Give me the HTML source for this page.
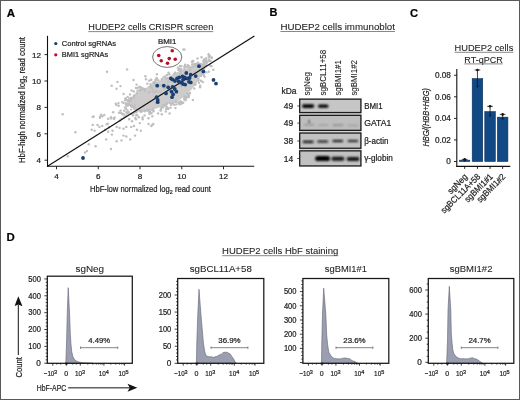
<!DOCTYPE html>
<html><head><meta charset="utf-8"><style>
html,body{margin:0;padding:0;background:#fff;}
svg{display:block;will-change:transform;font-family:"Liberation Sans",sans-serif;}
text{stroke:#1e1e1e;stroke-width:0.22px;}
text.t{stroke-width:0.08px;}
</style></head><body>
<svg width="520" height="400" viewBox="0 0 520 400" fill="#1e1e1e">
<rect x="0.00" y="0.00" width="520.00" height="400.00" fill="#ffffff"/>
<text x="6.80" y="16.50" font-size="11.5" font-weight="700" fill="#000">A</text>
<text x="269.60" y="16.10" font-size="11.0" font-weight="700" fill="#000">B</text>
<text x="410.00" y="16.60" font-size="11.2" font-weight="700" fill="#000">C</text>
<text x="6.60" y="240.50" font-size="11.4" font-weight="700" fill="#000">D</text>
<text x="88.30" y="30.30" font-size="8.8" textLength="125.00" lengthAdjust="spacingAndGlyphs" class="t">HUDEP2 cells CRISPR screen</text>
<line x1="88.30" y1="31.60" x2="213.30" y2="31.60" stroke="#555" stroke-width="0.7"/>
<polygon points="131,101 135,96 140,91 150,87 158,82 167,78.5 175,74 183,70.5 191,67.5 197,66 200,68 200.5,74 197,81 191,89 184,96 176,101.5 168,103 160,106.5 152,109 144,110.5 138,110 133,107 130,104" fill="#cdcbcb" stroke="#cdcbcb" stroke-width="1.5" stroke-linejoin="round"/>
<g fill="#bfbfbf"><circle cx="185.6" cy="100.2" r="1.22"/><circle cx="128.5" cy="100.6" r="1.22"/><circle cx="188.2" cy="66.4" r="1.22"/><circle cx="179.2" cy="103.4" r="1.22"/><circle cx="189.0" cy="95.8" r="1.22"/><circle cx="130.4" cy="100.1" r="1.22"/><circle cx="131.5" cy="98.0" r="1.22"/><circle cx="203.0" cy="65.5" r="1.22"/><circle cx="202.3" cy="65.7" r="1.22"/><circle cx="151.0" cy="86.0" r="1.22"/><circle cx="179.1" cy="103.4" r="1.22"/><circle cx="184.4" cy="98.4" r="1.22"/><circle cx="188.5" cy="95.3" r="1.22"/><circle cx="179.6" cy="68.7" r="1.22"/><circle cx="141.7" cy="111.3" r="1.22"/><circle cx="141.8" cy="89.8" r="1.22"/><circle cx="171.0" cy="104.7" r="1.22"/><circle cx="163.5" cy="105.3" r="1.22"/><circle cx="144.7" cy="110.8" r="1.22"/><circle cx="160.6" cy="110.4" r="1.22"/><circle cx="196.0" cy="65.2" r="1.22"/><circle cx="184.8" cy="66.1" r="1.22"/><circle cx="144.3" cy="89.0" r="1.22"/><circle cx="129.6" cy="101.7" r="1.22"/><circle cx="133.6" cy="97.6" r="1.22"/><circle cx="165.9" cy="78.6" r="1.22"/><circle cx="198.6" cy="78.8" r="1.22"/><circle cx="139.7" cy="110.7" r="1.22"/><circle cx="139.2" cy="87.5" r="1.22"/><circle cx="198.0" cy="65.0" r="1.22"/><circle cx="187.4" cy="96.2" r="1.22"/><circle cx="131.0" cy="100.2" r="1.22"/><circle cx="144.7" cy="111.2" r="1.22"/><circle cx="195.9" cy="63.6" r="1.22"/><circle cx="126.0" cy="104.1" r="1.22"/><circle cx="143.0" cy="88.7" r="1.22"/><circle cx="180.2" cy="101.4" r="1.22"/><circle cx="201.7" cy="71.1" r="1.22"/><circle cx="162.1" cy="79.1" r="1.22"/><circle cx="128.9" cy="103.9" r="1.22"/><circle cx="153.7" cy="111.2" r="1.22"/><circle cx="126.0" cy="104.7" r="1.22"/><circle cx="169.4" cy="74.3" r="1.22"/><circle cx="165.5" cy="104.7" r="1.22"/><circle cx="127.7" cy="96.9" r="1.22"/><circle cx="134.8" cy="108.6" r="1.22"/><circle cx="194.3" cy="88.4" r="1.22"/><circle cx="131.6" cy="105.8" r="1.22"/><circle cx="153.5" cy="84.1" r="1.22"/><circle cx="133.8" cy="96.2" r="1.22"/><circle cx="152.3" cy="110.1" r="1.22"/><circle cx="190.1" cy="93.0" r="1.22"/><circle cx="166.8" cy="107.5" r="1.22"/><circle cx="191.9" cy="66.8" r="1.22"/><circle cx="181.0" cy="71.2" r="1.22"/><circle cx="134.4" cy="108.5" r="1.22"/><circle cx="180.1" cy="70.6" r="1.22"/><circle cx="177.9" cy="67.7" r="1.22"/><circle cx="188.7" cy="66.0" r="1.22"/><circle cx="156.6" cy="77.9" r="1.22"/><circle cx="149.2" cy="80.8" r="1.22"/><circle cx="178.4" cy="102.4" r="1.22"/><circle cx="155.9" cy="79.3" r="1.22"/><circle cx="185.5" cy="97.9" r="1.22"/><circle cx="201.7" cy="69.5" r="1.22"/><circle cx="131.8" cy="106.5" r="1.22"/><circle cx="156.8" cy="78.6" r="1.22"/><circle cx="194.6" cy="84.9" r="1.22"/><circle cx="127.4" cy="105.7" r="1.22"/><circle cx="154.8" cy="81.9" r="1.22"/><circle cx="131.4" cy="106.2" r="1.22"/><circle cx="153.0" cy="109.4" r="1.22"/><circle cx="155.5" cy="82.8" r="1.22"/><circle cx="161.0" cy="110.3" r="1.22"/><circle cx="199.0" cy="66.7" r="1.22"/><circle cx="185.9" cy="66.8" r="1.22"/><circle cx="137.5" cy="90.8" r="1.22"/><circle cx="179.5" cy="70.2" r="1.22"/><circle cx="184.7" cy="96.3" r="1.22"/><circle cx="128.1" cy="101.6" r="1.22"/><circle cx="193.8" cy="64.3" r="1.22"/><circle cx="162.9" cy="107.5" r="1.22"/><circle cx="161.7" cy="106.8" r="1.22"/><circle cx="134.5" cy="95.2" r="1.22"/><circle cx="155.7" cy="80.3" r="1.22"/><circle cx="178.5" cy="69.9" r="1.22"/><circle cx="156.9" cy="74.3" r="1.22"/><circle cx="200.4" cy="64.9" r="1.22"/><circle cx="202.9" cy="70.1" r="1.22"/><circle cx="142.5" cy="88.4" r="1.22"/><circle cx="201.7" cy="71.6" r="1.22"/><circle cx="203.2" cy="72.9" r="1.22"/><circle cx="194.4" cy="64.7" r="1.22"/><circle cx="204.2" cy="68.5" r="1.22"/><circle cx="164.4" cy="105.8" r="1.22"/><circle cx="147.9" cy="110.5" r="1.22"/><circle cx="149.4" cy="113.8" r="1.22"/><circle cx="149.4" cy="86.8" r="1.22"/><circle cx="166.4" cy="104.3" r="1.22"/><circle cx="184.6" cy="97.0" r="1.22"/><circle cx="137.0" cy="110.4" r="1.22"/><circle cx="186.5" cy="98.1" r="1.22"/><circle cx="176.4" cy="104.4" r="1.22"/><circle cx="174.3" cy="73.9" r="1.22"/><circle cx="169.9" cy="103.1" r="1.22"/><circle cx="166.9" cy="75.0" r="1.22"/><circle cx="171.5" cy="104.0" r="1.22"/><circle cx="198.6" cy="63.6" r="1.22"/><circle cx="187.6" cy="94.5" r="1.22"/><circle cx="204.0" cy="66.3" r="1.22"/><circle cx="184.3" cy="67.1" r="1.22"/><circle cx="141.1" cy="87.5" r="1.22"/><circle cx="174.2" cy="104.7" r="1.22"/><circle cx="151.6" cy="113.0" r="1.22"/><circle cx="195.5" cy="84.3" r="1.22"/><circle cx="125.2" cy="107.4" r="1.22"/><circle cx="136.7" cy="93.3" r="1.22"/><circle cx="200.0" cy="64.6" r="1.22"/><circle cx="146.9" cy="110.4" r="1.22"/><circle cx="153.8" cy="82.5" r="1.22"/><circle cx="185.6" cy="96.8" r="1.22"/><circle cx="201.4" cy="70.2" r="1.22"/><circle cx="140.7" cy="111.9" r="1.22"/><circle cx="200.9" cy="68.9" r="1.22"/><circle cx="165.0" cy="105.3" r="1.22"/><circle cx="130.7" cy="97.9" r="1.22"/><circle cx="149.4" cy="109.8" r="1.22"/><circle cx="153.4" cy="82.8" r="1.22"/><circle cx="191.9" cy="61.7" r="1.22"/><circle cx="203.8" cy="75.0" r="1.22"/><circle cx="198.9" cy="82.8" r="1.22"/><circle cx="167.2" cy="77.9" r="1.22"/><circle cx="158.2" cy="80.1" r="1.22"/><circle cx="187.6" cy="93.5" r="1.22"/><circle cx="127.3" cy="104.1" r="1.22"/><circle cx="201.0" cy="66.4" r="1.22"/><circle cx="203.9" cy="65.4" r="1.22"/><circle cx="128.7" cy="104.9" r="1.22"/><circle cx="168.7" cy="74.1" r="1.22"/><circle cx="141.3" cy="89.3" r="1.22"/><circle cx="175.5" cy="102.0" r="1.22"/><circle cx="149.2" cy="112.0" r="1.22"/><circle cx="170.5" cy="107.7" r="1.22"/><circle cx="201.0" cy="80.7" r="1.22"/><circle cx="188.7" cy="97.0" r="1.22"/><circle cx="183.2" cy="102.8" r="1.22"/><circle cx="133.8" cy="107.5" r="1.22"/><circle cx="200.5" cy="69.5" r="1.22"/><circle cx="181.7" cy="103.6" r="1.22"/><circle cx="150.3" cy="113.4" r="1.22"/><circle cx="184.4" cy="69.3" r="1.22"/><circle cx="168.5" cy="72.6" r="1.22"/><circle cx="201.0" cy="68.9" r="1.22"/><circle cx="196.2" cy="64.5" r="1.22"/><circle cx="187.8" cy="65.1" r="1.22"/><circle cx="141.1" cy="110.6" r="1.22"/><circle cx="151.0" cy="79.6" r="1.22"/><circle cx="125.5" cy="98.4" r="1.22"/><circle cx="187.6" cy="66.4" r="1.22"/><circle cx="166.5" cy="106.8" r="1.22"/><circle cx="125.7" cy="98.6" r="1.22"/><circle cx="135.9" cy="87.9" r="1.22"/><circle cx="150.6" cy="84.0" r="1.22"/><circle cx="129.3" cy="99.6" r="1.22"/><circle cx="146.0" cy="79.2" r="1.22"/><circle cx="142.5" cy="117.4" r="1.22"/><circle cx="205.5" cy="65.8" r="1.22"/><circle cx="120.5" cy="86.1" r="1.22"/><circle cx="210.0" cy="65.4" r="1.22"/><circle cx="200.2" cy="85.8" r="1.22"/><circle cx="181.3" cy="68.9" r="1.22"/><circle cx="180.7" cy="101.8" r="1.22"/><circle cx="172.8" cy="103.2" r="1.22"/><circle cx="166.1" cy="109.1" r="1.22"/><circle cx="133.8" cy="113.0" r="1.22"/><circle cx="165.1" cy="76.5" r="1.22"/><circle cx="189.7" cy="67.7" r="1.22"/><circle cx="131.6" cy="90.5" r="1.22"/><circle cx="175.1" cy="72.7" r="1.22"/><circle cx="161.8" cy="114.3" r="1.22"/><circle cx="149.8" cy="111.3" r="1.22"/><circle cx="198.4" cy="80.5" r="1.22"/><circle cx="181.4" cy="66.1" r="1.22"/><circle cx="208.8" cy="71.7" r="1.22"/><circle cx="199.0" cy="66.0" r="1.22"/><circle cx="139.5" cy="90.3" r="1.22"/><circle cx="201.8" cy="74.0" r="1.22"/><circle cx="126.9" cy="100.1" r="1.22"/><circle cx="188.6" cy="94.1" r="1.22"/><circle cx="168.1" cy="109.0" r="1.22"/><circle cx="137.2" cy="88.0" r="1.22"/><circle cx="176.2" cy="101.6" r="1.22"/><circle cx="192.8" cy="61.2" r="1.22"/><circle cx="136.6" cy="84.6" r="1.22"/><circle cx="201.0" cy="70.2" r="1.22"/><circle cx="127.7" cy="105.3" r="1.22"/><circle cx="168.0" cy="108.2" r="1.22"/><circle cx="137.3" cy="115.0" r="1.22"/><circle cx="175.4" cy="108.1" r="1.22"/><circle cx="129.5" cy="98.7" r="1.22"/><circle cx="135.1" cy="111.9" r="1.22"/><circle cx="185.1" cy="64.8" r="1.22"/><circle cx="192.9" cy="99.9" r="1.22"/><circle cx="123.6" cy="94.0" r="1.22"/><circle cx="184.9" cy="97.1" r="1.22"/><circle cx="161.8" cy="79.1" r="1.22"/><circle cx="180.0" cy="104.2" r="1.22"/><circle cx="130.7" cy="113.9" r="1.22"/><circle cx="163.5" cy="77.4" r="1.22"/><circle cx="204.0" cy="66.3" r="1.22"/><circle cx="202.0" cy="69.1" r="1.22"/><circle cx="204.5" cy="61.5" r="1.22"/><circle cx="201.9" cy="66.8" r="1.22"/><circle cx="206.2" cy="65.2" r="1.22"/><circle cx="206.5" cy="61.2" r="1.22"/><circle cx="194.7" cy="66.2" r="1.22"/><circle cx="209.1" cy="61.1" r="1.22"/><circle cx="211.6" cy="57.5" r="1.22"/><circle cx="201.2" cy="64.2" r="1.22"/><circle cx="203.6" cy="60.2" r="1.22"/><circle cx="205.1" cy="60.8" r="1.22"/><circle cx="209.0" cy="59.5" r="1.22"/><circle cx="200.9" cy="66.1" r="1.22"/><circle cx="199.9" cy="65.9" r="1.22"/><circle cx="209.3" cy="55.3" r="1.22"/><circle cx="201.5" cy="57.2" r="1.22"/><circle cx="206.4" cy="60.8" r="1.22"/><circle cx="204.8" cy="62.6" r="1.22"/><circle cx="193.2" cy="61.0" r="1.22"/><circle cx="201.3" cy="63.9" r="1.22"/><circle cx="198.1" cy="62.7" r="1.22"/><circle cx="209.5" cy="56.4" r="1.22"/><circle cx="204.1" cy="62.3" r="1.22"/><circle cx="207.1" cy="62.5" r="1.22"/><circle cx="208.6" cy="54.3" r="1.22"/><circle cx="204.0" cy="64.1" r="1.22"/><circle cx="209.1" cy="56.6" r="1.22"/><circle cx="206.4" cy="62.8" r="1.22"/><circle cx="200.5" cy="64.2" r="1.22"/><circle cx="206.2" cy="58.3" r="1.22"/><circle cx="211.8" cy="58.0" r="1.22"/><circle cx="204.5" cy="59.2" r="1.22"/><circle cx="205.2" cy="59.4" r="1.22"/><circle cx="198.0" cy="63.9" r="1.22"/><circle cx="198.8" cy="66.7" r="1.22"/><circle cx="200.4" cy="64.7" r="1.22"/><circle cx="198.0" cy="64.3" r="1.22"/><circle cx="202.0" cy="64.9" r="1.22"/><circle cx="107.7" cy="123.7" r="1.22"/><circle cx="112.5" cy="130.7" r="1.22"/><circle cx="127.5" cy="110.5" r="1.22"/><circle cx="106.8" cy="124.3" r="1.22"/><circle cx="124.2" cy="117.1" r="1.22"/><circle cx="122.2" cy="113.5" r="1.22"/><circle cx="136.2" cy="115.3" r="1.22"/><circle cx="121.7" cy="118.6" r="1.22"/><circle cx="125.9" cy="103.1" r="1.22"/><circle cx="104.3" cy="115.0" r="1.22"/><circle cx="135.3" cy="118.0" r="1.22"/><circle cx="128.9" cy="112.3" r="1.22"/><circle cx="127.7" cy="113.5" r="1.22"/><circle cx="126.3" cy="115.8" r="1.22"/><circle cx="124.0" cy="114.4" r="1.22"/><circle cx="113.1" cy="112.3" r="1.22"/><circle cx="119.8" cy="120.5" r="1.22"/><circle cx="135.9" cy="112.3" r="1.22"/><circle cx="127.5" cy="112.4" r="1.22"/><circle cx="126.0" cy="108.7" r="1.22"/><circle cx="131.9" cy="114.1" r="1.22"/><circle cx="119.0" cy="112.8" r="1.22"/><circle cx="109.0" cy="127.2" r="1.22"/><circle cx="131.2" cy="106.0" r="1.22"/><circle cx="114.0" cy="119.0" r="1.22"/><circle cx="92.7" cy="116.9" r="1.22"/><circle cx="100.0" cy="117.7" r="1.22"/><circle cx="102.3" cy="116.3" r="1.22"/><circle cx="108.1" cy="118.8" r="1.22"/><circle cx="111.0" cy="117.3" r="1.22"/><circle cx="113.8" cy="118.3" r="1.22"/><circle cx="115.8" cy="103.8" r="1.22"/><circle cx="118.7" cy="105.8" r="1.22"/><circle cx="123.5" cy="102.9" r="1.22"/><circle cx="125.4" cy="107.7" r="1.22"/><circle cx="128.3" cy="104.8" r="1.22"/><circle cx="120.6" cy="110.6" r="1.22"/><circle cx="122.5" cy="114.4" r="1.22"/><circle cx="126.3" cy="112.5" r="1.22"/><circle cx="131.2" cy="109.6" r="1.22"/><circle cx="133.1" cy="115.4" r="1.22"/><circle cx="136.9" cy="111.5" r="1.22"/><circle cx="129.2" cy="119.2" r="1.22"/><circle cx="132.1" cy="121.2" r="1.22"/><circle cx="136.0" cy="119.2" r="1.22"/><circle cx="138.8" cy="117.3" r="1.22"/><circle cx="139.8" cy="123.1" r="1.22"/><circle cx="142.7" cy="119.2" r="1.22"/><circle cx="144.6" cy="115.4" r="1.22"/><circle cx="148.5" cy="118.3" r="1.22"/><circle cx="152.3" cy="116.3" r="1.22"/><circle cx="153.3" cy="124.0" r="1.22"/><circle cx="152.3" cy="125.0" r="1.22"/><circle cx="140.8" cy="130.8" r="1.22"/><circle cx="136.9" cy="129.8" r="1.22"/><circle cx="134.0" cy="126.0" r="1.22"/><circle cx="131.2" cy="126.9" r="1.22"/><circle cx="126.3" cy="126.9" r="1.22"/><circle cx="123.5" cy="128.8" r="1.22"/><circle cx="119.6" cy="127.9" r="1.22"/><circle cx="116.7" cy="126.9" r="1.22"/><circle cx="111.9" cy="134.6" r="1.22"/><circle cx="108.1" cy="131.7" r="1.22"/><circle cx="105.2" cy="129.8" r="1.22"/><circle cx="102.3" cy="126.0" r="1.22"/><circle cx="99.4" cy="126.9" r="1.22"/><circle cx="97.5" cy="125.0" r="1.22"/><circle cx="92.7" cy="125.0" r="1.22"/><circle cx="91.7" cy="129.8" r="1.22"/><circle cx="94.6" cy="130.8" r="1.22"/><circle cx="123.5" cy="135.6" r="1.22"/><circle cx="126.3" cy="136.5" r="1.22"/><circle cx="130.2" cy="139.4" r="1.22"/><circle cx="135.0" cy="135.6" r="1.22"/><circle cx="121.5" cy="140.4" r="1.22"/><circle cx="116.7" cy="141.3" r="1.22"/><circle cx="106.2" cy="139.4" r="1.22"/><circle cx="95.6" cy="146.2" r="1.22"/><circle cx="88.8" cy="144.2" r="1.22"/><circle cx="111.0" cy="149.0" r="1.22"/><circle cx="86.9" cy="151.0" r="1.22"/><circle cx="148.5" cy="124.0" r="1.22"/><circle cx="151.3" cy="126.0" r="1.22"/><circle cx="165.8" cy="111.5" r="1.22"/><circle cx="169.6" cy="113.5" r="1.22"/><circle cx="158.1" cy="113.5" r="1.22"/><circle cx="161.0" cy="108.7" r="1.22"/><circle cx="127.1" cy="69.4" r="1.22"/><circle cx="117.5" cy="81.9" r="1.22"/><circle cx="111.7" cy="85.8" r="1.22"/><circle cx="116.5" cy="88.7" r="1.22"/><circle cx="133.5" cy="80.0" r="1.22"/><circle cx="145.4" cy="76.2" r="1.22"/><circle cx="62.7" cy="114.2" r="1.22"/><circle cx="93.5" cy="116.5" r="1.22"/><circle cx="100.2" cy="116.5" r="1.22"/><circle cx="101.2" cy="114.6" r="1.22"/><circle cx="110.8" cy="118.5" r="1.22"/><circle cx="114.6" cy="117.5" r="1.22"/><circle cx="116.5" cy="105.0" r="1.22"/><circle cx="118.5" cy="103.1" r="1.22"/><circle cx="122.3" cy="102.1" r="1.22"/><circle cx="125.2" cy="100.2" r="1.22"/><circle cx="130.0" cy="94.4" r="1.22"/><circle cx="133.8" cy="91.5" r="1.22"/><circle cx="139.6" cy="86.7" r="1.22"/><circle cx="130.0" cy="105.0" r="1.22"/><circle cx="124.2" cy="110.8" r="1.22"/><circle cx="120.4" cy="112.7" r="1.22"/><circle cx="125.2" cy="116.5" r="1.22"/><circle cx="147.3" cy="83.8" r="1.22"/><circle cx="151.2" cy="80.0" r="1.22"/><circle cx="184.4" cy="49.6" r="1.22"/><circle cx="197.5" cy="58.4" r="1.22"/><circle cx="208.9" cy="56.6" r="1.22"/><circle cx="210.6" cy="61.0" r="1.22"/><circle cx="203.6" cy="61.9" r="1.22"/><circle cx="211.5" cy="66.3" r="1.22"/><circle cx="213.3" cy="69.8" r="1.22"/><circle cx="206.3" cy="72.4" r="1.22"/><circle cx="204.5" cy="76.8" r="1.22"/><circle cx="201.0" cy="75.9" r="1.22"/><circle cx="202.8" cy="82.0" r="1.22"/><circle cx="200.1" cy="87.3" r="1.22"/><circle cx="184.4" cy="99.5" r="1.22"/><circle cx="181.8" cy="102.2" r="1.22"/><circle cx="192.3" cy="64.5" r="1.22"/><circle cx="75.4" cy="132.3" r="1.22"/><circle cx="67.7" cy="156.3" r="1.22"/><circle cx="85.0" cy="152.5" r="1.22"/><circle cx="107.0" cy="71.7" r="1.22"/><circle cx="209.0" cy="55.6" r="1.22"/><circle cx="183.5" cy="49.5" r="1.22"/><circle cx="180.0" cy="66.0" r="1.22"/><circle cx="151.9" cy="87.9" r="1.22"/><circle cx="164.3" cy="88.7" r="1.22"/><circle cx="168.5" cy="78.1" r="1.22"/><circle cx="160.7" cy="85.4" r="1.22"/><circle cx="159.8" cy="91.9" r="1.22"/><circle cx="164.0" cy="85.4" r="1.22"/><circle cx="156.5" cy="102.5" r="1.22"/><circle cx="189.9" cy="68.9" r="1.22"/><circle cx="153.6" cy="92.4" r="1.22"/><circle cx="190.2" cy="70.4" r="1.22"/><circle cx="156.2" cy="91.9" r="1.22"/><circle cx="168.2" cy="81.7" r="1.22"/><circle cx="134.6" cy="105.6" r="1.22"/><circle cx="179.0" cy="79.1" r="1.22"/><circle cx="152.7" cy="90.4" r="1.22"/><circle cx="180.6" cy="73.9" r="1.22"/><circle cx="156.2" cy="90.9" r="1.22"/><circle cx="167.5" cy="84.9" r="1.22"/><circle cx="191.9" cy="82.5" r="1.22"/><circle cx="168.5" cy="90.4" r="1.22"/><circle cx="166.8" cy="103.2" r="1.22"/><circle cx="181.0" cy="86.5" r="1.22"/><circle cx="145.1" cy="90.7" r="1.22"/><circle cx="194.7" cy="71.9" r="1.22"/><circle cx="187.4" cy="79.6" r="1.22"/><circle cx="149.3" cy="92.2" r="1.22"/><circle cx="158.8" cy="85.7" r="1.22"/><circle cx="180.5" cy="81.8" r="1.22"/></g>
<line x1="47.50" y1="166.30" x2="254.40" y2="35.90" stroke="#111" stroke-width="1.2"/>
<g fill="#1a3f72"><circle cx="83" cy="158" r="1.9"/><circle cx="213.5" cy="79.9" r="1.9"/><circle cx="216" cy="83.6" r="1.9"/><circle cx="199" cy="66.2" r="1.9"/><circle cx="203.4" cy="71.4" r="1.9"/><circle cx="186.3" cy="73" r="1.9"/><circle cx="195.7" cy="76.1" r="1.9"/><circle cx="190.7" cy="74.7" r="1.9"/><circle cx="170.9" cy="78.5" r="1.9"/><circle cx="172.6" cy="79.6" r="1.9"/><circle cx="177" cy="78.5" r="1.9"/><circle cx="179.2" cy="77.4" r="1.9"/><circle cx="182.5" cy="76.3" r="1.9"/><circle cx="184.7" cy="77.4" r="1.9"/><circle cx="178.6" cy="81.3" r="1.9"/><circle cx="183" cy="79.6" r="1.9"/><circle cx="187.4" cy="78.5" r="1.9"/><circle cx="189" cy="81.8" r="1.9"/><circle cx="190.7" cy="82.4" r="1.9"/><circle cx="183" cy="84" r="1.9"/><circle cx="185.2" cy="84.6" r="1.9"/><circle cx="157.2" cy="85.7" r="1.9"/><circle cx="163.8" cy="85.7" r="1.9"/><circle cx="168.2" cy="87.3" r="1.9"/><circle cx="172.6" cy="86.8" r="1.9"/><circle cx="174.8" cy="89" r="1.9"/><circle cx="176.4" cy="91.7" r="1.9"/><circle cx="171.5" cy="91.7" r="1.9"/><circle cx="173.1" cy="94.5" r="1.9"/><circle cx="172" cy="97.2" r="1.9"/><circle cx="166" cy="93.4" r="1.9"/><circle cx="156.6" cy="97.2" r="1.9"/><circle cx="157.7" cy="100" r="1.9"/><circle cx="157.7" cy="102.2" r="1.9"/><circle cx="189.6" cy="78" r="1.9"/><circle cx="180.5" cy="82.5" r="1.9"/><circle cx="175" cy="81" r="1.9"/></g>
<g fill="#b3102a"><circle cx="172.25" cy="50.75" r="1.8"/><circle cx="158.75" cy="55.5" r="1.8"/><circle cx="169.25" cy="58.6" r="1.8"/><circle cx="175.25" cy="59.25" r="1.8"/><circle cx="161.25" cy="60.75" r="1.8"/><circle cx="167.5" cy="63.25" r="1.8"/></g>
<ellipse cx="167.2" cy="57" rx="14.6" ry="10.4" fill="none" stroke="#444" stroke-width="0.75"/>
<text x="158.00" y="43.70" font-size="7.2" textLength="18.40" lengthAdjust="spacingAndGlyphs">BMI1</text>
<circle cx="55.80" cy="43.60" r="1.6" fill="#1a3f72"/>
<circle cx="55.80" cy="54.80" r="1.6" fill="#b3102a"/>
<text x="61.80" y="46.10" font-size="7.8" textLength="54.20" lengthAdjust="spacingAndGlyphs">Control sgRNAs</text>
<text x="61.80" y="57.10" font-size="7.8" textLength="46.40" lengthAdjust="spacingAndGlyphs">BMI1 sgRNAs</text>
<line x1="47.50" y1="35.80" x2="47.50" y2="166.90" stroke="#111" stroke-width="1.1"/>
<line x1="46.95" y1="166.30" x2="254.20" y2="166.30" stroke="#111" stroke-width="1.1"/>
<line x1="44.50" y1="160.20" x2="47.50" y2="160.20" stroke="#111" stroke-width="0.9"/>
<text x="41.00" y="163.10" font-size="8.1" text-anchor="end">4</text>
<line x1="56.50" y1="166.30" x2="56.50" y2="169.30" stroke="#111" stroke-width="0.9"/>
<text x="56.50" y="179.30" font-size="8.1" text-anchor="middle">4</text>
<line x1="44.50" y1="133.80" x2="47.50" y2="133.80" stroke="#111" stroke-width="0.9"/>
<text x="41.00" y="136.70" font-size="8.1" text-anchor="end">6</text>
<line x1="98.25" y1="166.30" x2="98.25" y2="169.30" stroke="#111" stroke-width="0.9"/>
<text x="98.25" y="179.30" font-size="8.1" text-anchor="middle">6</text>
<line x1="44.50" y1="107.40" x2="47.50" y2="107.40" stroke="#111" stroke-width="0.9"/>
<text x="41.00" y="110.30" font-size="8.1" text-anchor="end">8</text>
<line x1="140.00" y1="166.30" x2="140.00" y2="169.30" stroke="#111" stroke-width="0.9"/>
<text x="140.00" y="179.30" font-size="8.1" text-anchor="middle">8</text>
<line x1="44.50" y1="81.00" x2="47.50" y2="81.00" stroke="#111" stroke-width="0.9"/>
<text x="41.00" y="83.90" font-size="8.1" text-anchor="end">10</text>
<line x1="181.75" y1="166.30" x2="181.75" y2="169.30" stroke="#111" stroke-width="0.9"/>
<text x="181.75" y="179.30" font-size="8.1" text-anchor="middle">10</text>
<line x1="44.50" y1="54.60" x2="47.50" y2="54.60" stroke="#111" stroke-width="0.9"/>
<text x="41.00" y="57.50" font-size="8.1" text-anchor="end">12</text>
<line x1="223.50" y1="166.30" x2="223.50" y2="169.30" stroke="#111" stroke-width="0.9"/>
<text x="223.50" y="179.30" font-size="8.1" text-anchor="middle">12</text>
<text x="25.0" y="163.0" font-size="8.3" textLength="126" lengthAdjust="spacingAndGlyphs" transform="rotate(-90 25 163)" fill="#1e1e1e">HbF-high normalized log<tspan font-size="5.6" dy="1.8">2</tspan><tspan dy="-1.8"> read count</tspan></text>
<text x="90.0" y="192.4" font-size="8.9" textLength="120.8" lengthAdjust="spacingAndGlyphs" fill="#1e1e1e">HbF-low normalized log<tspan font-size="6.2" dy="1.9">2</tspan><tspan dy="-1.9"> read count</tspan></text>
<text x="280.40" y="30.20" font-size="8.8" textLength="114.60" lengthAdjust="spacingAndGlyphs" class="t">HUDEP2 cells immunoblot</text>
<line x1="280.40" y1="31.50" x2="395.00" y2="31.50" stroke="#555" stroke-width="0.7"/>
<text x="281.50" y="94.30" font-size="8.2" textLength="15.00" lengthAdjust="spacingAndGlyphs">kDa</text>
<text x="310.50" y="95.60" font-size="8.4" textLength="23.60" lengthAdjust="spacingAndGlyphs" transform="rotate(-90 310.50 95.60)" class="t">sgNeg</text>
<text x="325.90" y="95.60" font-size="8.4" textLength="45.80" lengthAdjust="spacingAndGlyphs" transform="rotate(-90 325.90 95.60)" class="t">sgBCL11+58</text>
<text x="341.50" y="95.60" font-size="8.4" textLength="35.40" lengthAdjust="spacingAndGlyphs" transform="rotate(-90 341.50 95.60)" class="t">sgBMI1#1</text>
<text x="357.10" y="95.60" font-size="8.4" textLength="35.60" lengthAdjust="spacingAndGlyphs" transform="rotate(-90 357.10 95.60)" class="t">sgBMI1#2</text>
<rect x="299.10" y="98.50" width="62.40" height="67.80" fill="#d4d4d4"/>
<rect x="299.70" y="99.15" width="61.20" height="13.40" fill="#c6c6c6" stroke="#1c1c1c" stroke-width="1.3"/>
<rect x="299.70" y="115.35" width="61.20" height="15.00" fill="#bebebe" stroke="#1c1c1c" stroke-width="1.3"/>
<rect x="299.70" y="133.05" width="61.20" height="15.20" fill="#c1c1c1" stroke="#1c1c1c" stroke-width="1.3"/>
<rect x="299.70" y="150.85" width="61.20" height="15.10" fill="#c1c1c1" stroke="#1c1c1c" stroke-width="1.3"/>
<defs><filter id="bl" x="-20%" y="-50%" width="140%" height="200%"><feGaussianBlur stdDeviation="0.8"/></filter><filter id="bl2" x="-20%" y="-80%" width="140%" height="260%"><feGaussianBlur stdDeviation="0.8"/></filter></defs>
<rect x="302.0" y="104.30" width="12.30" height="3.6" rx="1.80" fill="#000000" filter="url(#bl2)"/>
<rect x="318.0" y="104.60" width="10.40" height="3.2" rx="1.60" fill="#000000" filter="url(#bl2)"/>
<rect x="304.0" y="123.80" width="10.50" height="2.0" rx="1.00" fill="#9c9c9c" filter="url(#bl2)"/>
<rect x="318.0" y="124.30" width="10.50" height="1.8" rx="0.90" fill="#a2a2a2" filter="url(#bl2)"/>
<rect x="332.5" y="124.10" width="11.00" height="2.2" rx="1.10" fill="#999999" filter="url(#bl2)"/>
<rect x="347.5" y="124.60" width="11.00" height="1.8" rx="0.90" fill="#a4a4a4" filter="url(#bl2)"/>
<rect x="302.7" y="140.80" width="11.00" height="2.2" rx="1.10" fill="#111111" filter="url(#bl2)"/>
<rect x="317.3" y="140.60" width="10.90" height="2.0" rx="1.00" fill="#1c1c1c" filter="url(#bl2)"/>
<rect x="332.3" y="140.10" width="10.90" height="2.0" rx="1.00" fill="#101010" filter="url(#bl2)"/>
<rect x="347.6" y="140.10" width="10.60" height="2.0" rx="1.00" fill="#202020" filter="url(#bl2)"/>
<rect x="315.2" y="155.90" width="14.80" height="5.2" rx="2.60" fill="#000000" filter="url(#bl2)"/>
<rect x="331.4" y="156.70" width="13.00" height="4.0" rx="2.00" fill="#151515" filter="url(#bl2)"/>
<rect x="346.7" y="157.10" width="12.70" height="4.0" rx="2.00" fill="#121212" filter="url(#bl2)"/>
<circle cx="309.2" cy="121.5" r="1.2" fill="#555" filter="url(#bl)"/>
<text x="293.20" y="109.10" font-size="8.7" text-anchor="end" textLength="9.40" lengthAdjust="spacingAndGlyphs">49</text>
<line x1="297.30" y1="106.00" x2="299.20" y2="106.00" stroke="#222" stroke-width="0.8"/>
<text x="293.20" y="126.20" font-size="8.7" text-anchor="end" textLength="9.40" lengthAdjust="spacingAndGlyphs">49</text>
<line x1="297.30" y1="123.10" x2="299.20" y2="123.10" stroke="#222" stroke-width="0.8"/>
<text x="293.20" y="144.10" font-size="8.7" text-anchor="end" textLength="9.40" lengthAdjust="spacingAndGlyphs">38</text>
<line x1="297.30" y1="141.00" x2="299.20" y2="141.00" stroke="#222" stroke-width="0.8"/>
<text x="293.20" y="161.60" font-size="8.7" text-anchor="end" textLength="9.40" lengthAdjust="spacingAndGlyphs">14</text>
<line x1="297.30" y1="158.50" x2="299.20" y2="158.50" stroke="#222" stroke-width="0.8"/>
<text x="364.20" y="108.85" font-size="8.6" textLength="18.40" lengthAdjust="spacingAndGlyphs">BMI1</text>
<text x="364.20" y="126.10" font-size="8.6" textLength="27.00" lengthAdjust="spacingAndGlyphs">GATA1</text>
<text x="364.20" y="143.60" font-size="8.6" textLength="24.20" lengthAdjust="spacingAndGlyphs">β-actin</text>
<text x="364.20" y="160.50" font-size="8.6" textLength="28.60" lengthAdjust="spacingAndGlyphs">γ-globin</text>
<text x="454.50" y="50.90" font-size="8.6" textLength="58.80" lengthAdjust="spacingAndGlyphs" class="t">HUDEP2 cells</text>
<line x1="454.50" y1="52.30" x2="513.30" y2="52.30" stroke="#555" stroke-width="0.7"/>
<text x="464.30" y="62.60" font-size="8.6" textLength="38.40" lengthAdjust="spacingAndGlyphs" class="t">RT-qPCR</text>
<line x1="464.30" y1="63.90" x2="502.70" y2="63.90" stroke="#555" stroke-width="0.7"/>
<line x1="456.80" y1="69.00" x2="456.80" y2="166.90" stroke="#111" stroke-width="1.1"/>
<line x1="456.25" y1="166.40" x2="510.30" y2="166.40" stroke="#111" stroke-width="1.1"/>
<line x1="454.00" y1="161.50" x2="456.80" y2="161.50" stroke="#111" stroke-width="0.9"/>
<text x="450.90" y="164.40" font-size="8.2" text-anchor="end">0</text>
<line x1="454.00" y1="139.94" x2="456.80" y2="139.94" stroke="#111" stroke-width="0.9"/>
<text x="450.90" y="142.84" font-size="8.2" text-anchor="end" textLength="15.90" lengthAdjust="spacingAndGlyphs">0.02</text>
<line x1="454.00" y1="118.38" x2="456.80" y2="118.38" stroke="#111" stroke-width="0.9"/>
<text x="450.90" y="121.28" font-size="8.2" text-anchor="end" textLength="15.90" lengthAdjust="spacingAndGlyphs">0.04</text>
<line x1="454.00" y1="96.81" x2="456.80" y2="96.81" stroke="#111" stroke-width="0.9"/>
<text x="450.90" y="99.71" font-size="8.2" text-anchor="end" textLength="15.90" lengthAdjust="spacingAndGlyphs">0.06</text>
<line x1="454.00" y1="75.25" x2="456.80" y2="75.25" stroke="#111" stroke-width="0.9"/>
<text x="450.90" y="78.15" font-size="8.2" text-anchor="end" textLength="15.90" lengthAdjust="spacingAndGlyphs">0.08</text>
<rect x="459.60" y="160.18" width="10.20" height="1.32" fill="#104985" stroke="#0b2d55" stroke-width="0.6"/>
<line x1="464.70" y1="166.40" x2="464.70" y2="168.90" stroke="#111" stroke-width="0.9"/>
<rect x="472.20" y="78.68" width="10.50" height="82.82" fill="#104985" stroke="#0b2d55" stroke-width="0.6"/>
<line x1="477.45" y1="166.40" x2="477.45" y2="168.90" stroke="#111" stroke-width="0.9"/>
<rect x="484.80" y="111.67" width="10.50" height="49.83" fill="#104985" stroke="#0b2d55" stroke-width="0.6"/>
<line x1="490.05" y1="166.40" x2="490.05" y2="168.90" stroke="#111" stroke-width="0.9"/>
<rect x="497.40" y="117.17" width="10.50" height="44.33" fill="#104985" stroke="#0b2d55" stroke-width="0.6"/>
<line x1="502.65" y1="166.40" x2="502.65" y2="168.90" stroke="#111" stroke-width="0.9"/>
<line x1="464.70" y1="159.40" x2="464.70" y2="160.60" stroke="#111" stroke-width="0.8"/>
<line x1="461.90" y1="159.40" x2="467.50" y2="159.40" stroke="#111" stroke-width="0.8"/>
<circle cx="464.70" cy="159.40" r="1.3" fill="#111"/>
<circle cx="464.70" cy="160.60" r="1.1" fill="#0c1f38"/>
<line x1="477.45" y1="70.00" x2="477.45" y2="86.50" stroke="#111" stroke-width="0.8"/>
<line x1="474.65" y1="70.00" x2="480.25" y2="70.00" stroke="#111" stroke-width="0.8"/>
<circle cx="477.45" cy="70.00" r="1.3" fill="#111"/>
<circle cx="477.45" cy="86.50" r="1.1" fill="#0c1f38"/>
<line x1="490.05" y1="106.30" x2="490.05" y2="115.60" stroke="#111" stroke-width="0.8"/>
<line x1="487.25" y1="106.30" x2="492.85" y2="106.30" stroke="#111" stroke-width="0.8"/>
<circle cx="490.05" cy="106.30" r="1.3" fill="#111"/>
<circle cx="490.05" cy="115.60" r="1.1" fill="#0c1f38"/>
<line x1="502.65" y1="114.40" x2="502.65" y2="118.60" stroke="#111" stroke-width="0.8"/>
<line x1="499.85" y1="114.40" x2="505.45" y2="114.40" stroke="#111" stroke-width="0.8"/>
<circle cx="502.65" cy="114.40" r="1.3" fill="#111"/>
<circle cx="502.65" cy="118.60" r="1.1" fill="#0c1f38"/>
<text x="429.3" y="146.6" font-size="8.6" font-style="italic" textLength="58.6" lengthAdjust="spacingAndGlyphs" transform="rotate(-90 429.3 146.6)" fill="#1e1e1e">HBG/(HBB+HBG)</text>
<text x="468.10" y="177.30" font-size="8.8" text-anchor="end" textLength="24.2" lengthAdjust="spacingAndGlyphs" transform="rotate(-45 468.10 177.30)" fill="#1e1e1e">sgNeg</text>
<text x="480.85" y="177.30" font-size="8.8" text-anchor="end" textLength="51.7" lengthAdjust="spacingAndGlyphs" transform="rotate(-45 480.85 177.30)" fill="#1e1e1e">sgBCL11A+58</text>
<text x="493.45" y="177.30" font-size="8.8" text-anchor="end" textLength="36.0" lengthAdjust="spacingAndGlyphs" transform="rotate(-45 493.45 177.30)" fill="#1e1e1e">sgBMI1#1</text>
<text x="506.05" y="177.30" font-size="8.8" text-anchor="end" textLength="36.5" lengthAdjust="spacingAndGlyphs" transform="rotate(-45 506.05 177.30)" fill="#1e1e1e">sgBMI1#2</text>
<text x="222.10" y="254.40" font-size="8.8" textLength="116.20" lengthAdjust="spacingAndGlyphs" class="t">HUDEP2 cells HbF staining</text>
<line x1="222.10" y1="255.70" x2="338.30" y2="255.70" stroke="#555" stroke-width="0.7"/>
<line x1="18.30" y1="304.50" x2="18.30" y2="355.00" stroke="#111" stroke-width="1.0"/>
<path d="M18.3 296.2 L22.5 306.3 L18.3 304.4 L14.6 305.9 Z" fill="#111"/>
<text x="22.50" y="377.60" font-size="8.8" textLength="20.60" lengthAdjust="spacingAndGlyphs" transform="rotate(-90 22.50 377.60)">Count</text>
<line x1="68.20" y1="387.85" x2="130.50" y2="387.85" stroke="#111" stroke-width="1.0"/>
<path d="M137.3 387.85 L127.5 383.8 L129.8 387.85 L127.5 391.8 Z" fill="#111"/>
<text x="36.80" y="390.60" font-size="9.3" textLength="29.40" lengthAdjust="spacingAndGlyphs">HbF-APC</text>
<text x="89.80" y="271.60" font-size="8.9" text-anchor="middle" textLength="28.60" lengthAdjust="spacingAndGlyphs" class="t">sgNeg</text>
<path d="M65.80 363.30 L65.80 363.30 L66.10 355.30 L66.55 342.00 L67.30 312.00 L68.20 287.70 L69.50 312.00 L70.30 333.30 L70.90 343.30 L71.70 351.30 L72.80 356.30 L74.30 359.30 L76.00 360.80 L77.15 361.43 L78.30 361.80 L79.80 362.21 L81.30 362.50 L82.50 362.64 L83.70 362.84 L84.90 362.79 L86.10 363.00 L87.30 363.00 L93.30 363.30 L93.30 363.30 Z" fill="#9a9eb0" stroke="#5f6372" stroke-width="0.6" stroke-linejoin="round"/>
<rect x="65.10" y="362.70" width="2.60" height="1.80" fill="#111"/>
<rect x="47.30" y="276.20" width="85.00" height="87.10" fill="none" stroke="#161616" stroke-width="1.25"/>
<line x1="44.30" y1="363.20" x2="47.30" y2="363.20" stroke="#111" stroke-width="0.8"/>
<line x1="45.70" y1="359.83" x2="47.30" y2="359.83" stroke="#111" stroke-width="0.8"/>
<line x1="45.70" y1="356.46" x2="47.30" y2="356.46" stroke="#111" stroke-width="0.8"/>
<line x1="45.70" y1="353.09" x2="47.30" y2="353.09" stroke="#111" stroke-width="0.8"/>
<line x1="45.70" y1="349.72" x2="47.30" y2="349.72" stroke="#111" stroke-width="0.8"/>
<line x1="44.30" y1="346.35" x2="47.30" y2="346.35" stroke="#111" stroke-width="0.8"/>
<line x1="45.70" y1="342.98" x2="47.30" y2="342.98" stroke="#111" stroke-width="0.8"/>
<line x1="45.70" y1="339.61" x2="47.30" y2="339.61" stroke="#111" stroke-width="0.8"/>
<line x1="45.70" y1="336.24" x2="47.30" y2="336.24" stroke="#111" stroke-width="0.8"/>
<line x1="45.70" y1="332.87" x2="47.30" y2="332.87" stroke="#111" stroke-width="0.8"/>
<line x1="44.30" y1="329.50" x2="47.30" y2="329.50" stroke="#111" stroke-width="0.8"/>
<line x1="45.70" y1="326.13" x2="47.30" y2="326.13" stroke="#111" stroke-width="0.8"/>
<line x1="45.70" y1="322.76" x2="47.30" y2="322.76" stroke="#111" stroke-width="0.8"/>
<line x1="45.70" y1="319.39" x2="47.30" y2="319.39" stroke="#111" stroke-width="0.8"/>
<line x1="45.70" y1="316.02" x2="47.30" y2="316.02" stroke="#111" stroke-width="0.8"/>
<line x1="44.30" y1="312.65" x2="47.30" y2="312.65" stroke="#111" stroke-width="0.8"/>
<line x1="45.70" y1="309.28" x2="47.30" y2="309.28" stroke="#111" stroke-width="0.8"/>
<line x1="45.70" y1="305.91" x2="47.30" y2="305.91" stroke="#111" stroke-width="0.8"/>
<line x1="45.70" y1="302.54" x2="47.30" y2="302.54" stroke="#111" stroke-width="0.8"/>
<line x1="45.70" y1="299.17" x2="47.30" y2="299.17" stroke="#111" stroke-width="0.8"/>
<line x1="44.30" y1="295.80" x2="47.30" y2="295.80" stroke="#111" stroke-width="0.8"/>
<line x1="45.70" y1="292.43" x2="47.30" y2="292.43" stroke="#111" stroke-width="0.8"/>
<line x1="45.70" y1="289.06" x2="47.30" y2="289.06" stroke="#111" stroke-width="0.8"/>
<line x1="45.70" y1="285.69" x2="47.30" y2="285.69" stroke="#111" stroke-width="0.8"/>
<line x1="45.70" y1="282.32" x2="47.30" y2="282.32" stroke="#111" stroke-width="0.8"/>
<line x1="44.30" y1="278.95" x2="47.30" y2="278.95" stroke="#111" stroke-width="0.8"/>
<text x="40.90" y="366.00" font-size="8.2" text-anchor="end">0</text>
<text x="40.90" y="349.15" font-size="8.2" text-anchor="end" textLength="12.60" lengthAdjust="spacingAndGlyphs">100</text>
<text x="40.90" y="332.30" font-size="8.2" text-anchor="end" textLength="12.60" lengthAdjust="spacingAndGlyphs">200</text>
<text x="40.90" y="315.45" font-size="8.2" text-anchor="end" textLength="12.60" lengthAdjust="spacingAndGlyphs">300</text>
<text x="40.90" y="298.60" font-size="8.2" text-anchor="end" textLength="12.60" lengthAdjust="spacingAndGlyphs">400</text>
<text x="40.90" y="281.75" font-size="8.2" text-anchor="end" textLength="12.60" lengthAdjust="spacingAndGlyphs">500</text>
<line x1="52.80" y1="363.30" x2="52.80" y2="365.70" stroke="#111" stroke-width="0.8"/>
<line x1="66.40" y1="363.30" x2="66.40" y2="365.70" stroke="#111" stroke-width="0.8"/>
<line x1="80.30" y1="363.30" x2="80.30" y2="365.70" stroke="#111" stroke-width="0.8"/>
<line x1="103.90" y1="363.30" x2="103.90" y2="365.70" stroke="#111" stroke-width="0.8"/>
<line x1="124.60" y1="363.30" x2="124.60" y2="365.70" stroke="#111" stroke-width="0.8"/>
<line x1="56.80" y1="363.30" x2="56.80" y2="364.70" stroke="#111" stroke-width="0.7"/>
<line x1="60.70" y1="363.30" x2="60.70" y2="364.70" stroke="#111" stroke-width="0.7"/>
<line x1="72.80" y1="363.30" x2="72.80" y2="364.70" stroke="#111" stroke-width="0.7"/>
<line x1="76.30" y1="363.30" x2="76.30" y2="364.70" stroke="#111" stroke-width="0.7"/>
<line x1="87.80" y1="363.30" x2="87.80" y2="364.70" stroke="#111" stroke-width="0.7"/>
<line x1="92.80" y1="363.30" x2="92.80" y2="364.70" stroke="#111" stroke-width="0.7"/>
<line x1="96.30" y1="363.30" x2="96.30" y2="364.70" stroke="#111" stroke-width="0.7"/>
<line x1="98.80" y1="363.30" x2="98.80" y2="364.70" stroke="#111" stroke-width="0.7"/>
<line x1="100.80" y1="363.30" x2="100.80" y2="364.70" stroke="#111" stroke-width="0.7"/>
<line x1="102.30" y1="363.30" x2="102.30" y2="364.70" stroke="#111" stroke-width="0.7"/>
<line x1="110.80" y1="363.30" x2="110.80" y2="364.70" stroke="#111" stroke-width="0.7"/>
<line x1="115.80" y1="363.30" x2="115.80" y2="364.70" stroke="#111" stroke-width="0.7"/>
<line x1="119.30" y1="363.30" x2="119.30" y2="364.70" stroke="#111" stroke-width="0.7"/>
<line x1="121.80" y1="363.30" x2="121.80" y2="364.70" stroke="#111" stroke-width="0.7"/>
<line x1="123.80" y1="363.30" x2="123.80" y2="364.70" stroke="#111" stroke-width="0.7"/>
<text x="43.80" y="376.40" font-size="7.9" textLength="10.50" lengthAdjust="spacingAndGlyphs">&#8722;10</text>
<text x="54.05" y="373.90" font-size="5.53">3</text>
<text x="66.10" y="376.40" font-size="7.9" text-anchor="middle" textLength="3.90" lengthAdjust="spacingAndGlyphs">0</text>
<text x="74.90" y="376.40" font-size="7.9" textLength="7.10" lengthAdjust="spacingAndGlyphs">10</text>
<text x="81.95" y="373.90" font-size="5.53">3</text>
<text x="98.70" y="376.40" font-size="7.9" textLength="7.10" lengthAdjust="spacingAndGlyphs">10</text>
<text x="105.75" y="373.90" font-size="5.53">4</text>
<text x="118.50" y="376.40" font-size="7.9" textLength="7.10" lengthAdjust="spacingAndGlyphs">10</text>
<text x="125.55" y="373.90" font-size="5.53">5</text>
<line x1="80.60" y1="347.70" x2="117.80" y2="347.70" stroke="#666" stroke-width="0.8"/>
<line x1="80.60" y1="346.50" x2="80.60" y2="348.90" stroke="#666" stroke-width="0.8"/>
<line x1="117.80" y1="346.50" x2="117.80" y2="348.90" stroke="#666" stroke-width="0.8"/>
<text x="99.20" y="342.90" font-size="7.8" text-anchor="middle" textLength="21.80" lengthAdjust="spacingAndGlyphs">4.49%</text>
<text x="220.75" y="271.60" font-size="8.9" text-anchor="middle" textLength="62.20" lengthAdjust="spacingAndGlyphs" class="t">sgBCL11A+58</text>
<path d="M196.30 363.30 L196.30 363.30 L196.60 353.30 L196.75 344.00 L197.80 314.00 L199.00 289.30 L200.90 314.00 L203.50 344.00 L204.90 352.30 L206.30 356.00 L208.20 356.50 L210.20 356.90 L211.33 356.61 L212.47 357.17 L213.60 357.30 L215.10 356.83 L216.60 356.50 L217.90 355.66 L219.20 355.20 L220.37 354.19 L221.53 354.14 L222.70 353.00 L223.80 352.35 L224.90 352.30 L226.20 352.14 L227.50 352.60 L228.80 353.17 L230.10 353.90 L232.20 356.90 L233.50 358.76 L234.80 361.20 L235.70 362.30 L236.20 363.30 L236.20 363.30 Z" fill="#9a9eb0" stroke="#5f6372" stroke-width="0.6" stroke-linejoin="round"/>
<rect x="195.50" y="362.70" width="2.60" height="1.80" fill="#111"/>
<rect x="177.70" y="278.50" width="86.10" height="84.80" fill="none" stroke="#161616" stroke-width="1.25"/>
<line x1="174.70" y1="363.30" x2="177.70" y2="363.30" stroke="#111" stroke-width="0.8"/>
<line x1="176.10" y1="359.89" x2="177.70" y2="359.89" stroke="#111" stroke-width="0.8"/>
<line x1="176.10" y1="356.47" x2="177.70" y2="356.47" stroke="#111" stroke-width="0.8"/>
<line x1="176.10" y1="353.06" x2="177.70" y2="353.06" stroke="#111" stroke-width="0.8"/>
<line x1="176.10" y1="349.64" x2="177.70" y2="349.64" stroke="#111" stroke-width="0.8"/>
<line x1="174.70" y1="346.23" x2="177.70" y2="346.23" stroke="#111" stroke-width="0.8"/>
<line x1="176.10" y1="342.82" x2="177.70" y2="342.82" stroke="#111" stroke-width="0.8"/>
<line x1="176.10" y1="339.40" x2="177.70" y2="339.40" stroke="#111" stroke-width="0.8"/>
<line x1="176.10" y1="335.99" x2="177.70" y2="335.99" stroke="#111" stroke-width="0.8"/>
<line x1="176.10" y1="332.57" x2="177.70" y2="332.57" stroke="#111" stroke-width="0.8"/>
<line x1="174.70" y1="329.16" x2="177.70" y2="329.16" stroke="#111" stroke-width="0.8"/>
<line x1="176.10" y1="325.75" x2="177.70" y2="325.75" stroke="#111" stroke-width="0.8"/>
<line x1="176.10" y1="322.33" x2="177.70" y2="322.33" stroke="#111" stroke-width="0.8"/>
<line x1="176.10" y1="318.92" x2="177.70" y2="318.92" stroke="#111" stroke-width="0.8"/>
<line x1="176.10" y1="315.50" x2="177.70" y2="315.50" stroke="#111" stroke-width="0.8"/>
<line x1="174.70" y1="312.09" x2="177.70" y2="312.09" stroke="#111" stroke-width="0.8"/>
<line x1="176.10" y1="308.68" x2="177.70" y2="308.68" stroke="#111" stroke-width="0.8"/>
<line x1="176.10" y1="305.26" x2="177.70" y2="305.26" stroke="#111" stroke-width="0.8"/>
<line x1="176.10" y1="301.85" x2="177.70" y2="301.85" stroke="#111" stroke-width="0.8"/>
<line x1="176.10" y1="298.43" x2="177.70" y2="298.43" stroke="#111" stroke-width="0.8"/>
<line x1="174.70" y1="295.02" x2="177.70" y2="295.02" stroke="#111" stroke-width="0.8"/>
<line x1="176.10" y1="291.61" x2="177.70" y2="291.61" stroke="#111" stroke-width="0.8"/>
<line x1="176.10" y1="288.19" x2="177.70" y2="288.19" stroke="#111" stroke-width="0.8"/>
<line x1="176.10" y1="284.78" x2="177.70" y2="284.78" stroke="#111" stroke-width="0.8"/>
<line x1="176.10" y1="281.36" x2="177.70" y2="281.36" stroke="#111" stroke-width="0.8"/>
<text x="171.30" y="366.10" font-size="8.2" text-anchor="end">0</text>
<text x="171.30" y="349.03" font-size="8.2" text-anchor="end" textLength="8.40" lengthAdjust="spacingAndGlyphs">50</text>
<text x="171.30" y="331.96" font-size="8.2" text-anchor="end" textLength="12.60" lengthAdjust="spacingAndGlyphs">100</text>
<text x="171.30" y="314.89" font-size="8.2" text-anchor="end" textLength="12.60" lengthAdjust="spacingAndGlyphs">150</text>
<text x="171.30" y="297.82" font-size="8.2" text-anchor="end" textLength="12.60" lengthAdjust="spacingAndGlyphs">200</text>
<line x1="183.20" y1="363.30" x2="183.20" y2="365.70" stroke="#111" stroke-width="0.8"/>
<line x1="196.80" y1="363.30" x2="196.80" y2="365.70" stroke="#111" stroke-width="0.8"/>
<line x1="210.70" y1="363.30" x2="210.70" y2="365.70" stroke="#111" stroke-width="0.8"/>
<line x1="234.30" y1="363.30" x2="234.30" y2="365.70" stroke="#111" stroke-width="0.8"/>
<line x1="255.00" y1="363.30" x2="255.00" y2="365.70" stroke="#111" stroke-width="0.8"/>
<line x1="187.20" y1="363.30" x2="187.20" y2="364.70" stroke="#111" stroke-width="0.7"/>
<line x1="191.10" y1="363.30" x2="191.10" y2="364.70" stroke="#111" stroke-width="0.7"/>
<line x1="203.20" y1="363.30" x2="203.20" y2="364.70" stroke="#111" stroke-width="0.7"/>
<line x1="206.70" y1="363.30" x2="206.70" y2="364.70" stroke="#111" stroke-width="0.7"/>
<line x1="218.20" y1="363.30" x2="218.20" y2="364.70" stroke="#111" stroke-width="0.7"/>
<line x1="223.20" y1="363.30" x2="223.20" y2="364.70" stroke="#111" stroke-width="0.7"/>
<line x1="226.70" y1="363.30" x2="226.70" y2="364.70" stroke="#111" stroke-width="0.7"/>
<line x1="229.20" y1="363.30" x2="229.20" y2="364.70" stroke="#111" stroke-width="0.7"/>
<line x1="231.20" y1="363.30" x2="231.20" y2="364.70" stroke="#111" stroke-width="0.7"/>
<line x1="232.70" y1="363.30" x2="232.70" y2="364.70" stroke="#111" stroke-width="0.7"/>
<line x1="241.20" y1="363.30" x2="241.20" y2="364.70" stroke="#111" stroke-width="0.7"/>
<line x1="246.20" y1="363.30" x2="246.20" y2="364.70" stroke="#111" stroke-width="0.7"/>
<line x1="249.70" y1="363.30" x2="249.70" y2="364.70" stroke="#111" stroke-width="0.7"/>
<line x1="252.20" y1="363.30" x2="252.20" y2="364.70" stroke="#111" stroke-width="0.7"/>
<line x1="254.20" y1="363.30" x2="254.20" y2="364.70" stroke="#111" stroke-width="0.7"/>
<text x="174.20" y="376.40" font-size="7.9" textLength="10.50" lengthAdjust="spacingAndGlyphs">&#8722;10</text>
<text x="184.45" y="373.90" font-size="5.53">3</text>
<text x="196.50" y="376.40" font-size="7.9" text-anchor="middle" textLength="3.90" lengthAdjust="spacingAndGlyphs">0</text>
<text x="205.30" y="376.40" font-size="7.9" textLength="7.10" lengthAdjust="spacingAndGlyphs">10</text>
<text x="212.35" y="373.90" font-size="5.53">3</text>
<text x="229.10" y="376.40" font-size="7.9" textLength="7.10" lengthAdjust="spacingAndGlyphs">10</text>
<text x="236.15" y="373.90" font-size="5.53">4</text>
<text x="248.90" y="376.40" font-size="7.9" textLength="7.10" lengthAdjust="spacingAndGlyphs">10</text>
<text x="255.95" y="373.90" font-size="5.53">5</text>
<line x1="211.00" y1="347.70" x2="247.90" y2="347.70" stroke="#666" stroke-width="0.8"/>
<line x1="211.00" y1="346.50" x2="211.00" y2="348.90" stroke="#666" stroke-width="0.8"/>
<line x1="247.90" y1="346.50" x2="247.90" y2="348.90" stroke="#666" stroke-width="0.8"/>
<text x="229.45" y="342.90" font-size="7.8" text-anchor="middle" textLength="22.40" lengthAdjust="spacingAndGlyphs">36.9%</text>
<text x="345.85" y="271.60" font-size="8.9" text-anchor="middle" textLength="42.20" lengthAdjust="spacingAndGlyphs" class="t">sgBMI1#1</text>
<path d="M321.50 363.30 L321.50 363.30 L321.75 344.00 L322.50 314.00 L323.70 288.20 L325.80 314.00 L326.70 335.00 L327.60 344.30 L328.20 348.30 L328.80 352.30 L329.90 353.83 L331.00 356.20 L332.50 357.26 L334.00 358.40 L335.30 358.49 L336.60 358.69 L337.90 358.80 L339.07 358.95 L340.23 358.95 L341.40 358.40 L342.53 358.36 L343.67 358.13 L344.80 358.00 L345.97 357.92 L347.13 358.48 L348.30 358.50 L349.60 358.68 L350.90 359.70 L352.20 360.70 L353.50 361.00 L355.00 361.61 L356.50 362.50 L357.90 363.30 L357.90 363.30 Z" fill="#9a9eb0" stroke="#5f6372" stroke-width="0.6" stroke-linejoin="round"/>
<rect x="320.70" y="362.70" width="2.60" height="1.80" fill="#111"/>
<rect x="302.90" y="278.50" width="85.90" height="84.80" fill="none" stroke="#161616" stroke-width="1.25"/>
<line x1="299.90" y1="362.60" x2="302.90" y2="362.60" stroke="#111" stroke-width="0.8"/>
<line x1="301.30" y1="359.05" x2="302.90" y2="359.05" stroke="#111" stroke-width="0.8"/>
<line x1="301.30" y1="355.50" x2="302.90" y2="355.50" stroke="#111" stroke-width="0.8"/>
<line x1="301.30" y1="351.95" x2="302.90" y2="351.95" stroke="#111" stroke-width="0.8"/>
<line x1="299.90" y1="348.40" x2="302.90" y2="348.40" stroke="#111" stroke-width="0.8"/>
<line x1="301.30" y1="344.85" x2="302.90" y2="344.85" stroke="#111" stroke-width="0.8"/>
<line x1="301.30" y1="341.30" x2="302.90" y2="341.30" stroke="#111" stroke-width="0.8"/>
<line x1="301.30" y1="337.75" x2="302.90" y2="337.75" stroke="#111" stroke-width="0.8"/>
<line x1="299.90" y1="334.20" x2="302.90" y2="334.20" stroke="#111" stroke-width="0.8"/>
<line x1="301.30" y1="330.65" x2="302.90" y2="330.65" stroke="#111" stroke-width="0.8"/>
<line x1="301.30" y1="327.10" x2="302.90" y2="327.10" stroke="#111" stroke-width="0.8"/>
<line x1="301.30" y1="323.55" x2="302.90" y2="323.55" stroke="#111" stroke-width="0.8"/>
<line x1="299.90" y1="320.00" x2="302.90" y2="320.00" stroke="#111" stroke-width="0.8"/>
<line x1="301.30" y1="316.45" x2="302.90" y2="316.45" stroke="#111" stroke-width="0.8"/>
<line x1="301.30" y1="312.90" x2="302.90" y2="312.90" stroke="#111" stroke-width="0.8"/>
<line x1="301.30" y1="309.35" x2="302.90" y2="309.35" stroke="#111" stroke-width="0.8"/>
<line x1="299.90" y1="305.80" x2="302.90" y2="305.80" stroke="#111" stroke-width="0.8"/>
<line x1="301.30" y1="302.25" x2="302.90" y2="302.25" stroke="#111" stroke-width="0.8"/>
<line x1="301.30" y1="298.70" x2="302.90" y2="298.70" stroke="#111" stroke-width="0.8"/>
<line x1="301.30" y1="295.15" x2="302.90" y2="295.15" stroke="#111" stroke-width="0.8"/>
<line x1="299.90" y1="291.60" x2="302.90" y2="291.60" stroke="#111" stroke-width="0.8"/>
<line x1="301.30" y1="288.05" x2="302.90" y2="288.05" stroke="#111" stroke-width="0.8"/>
<line x1="301.30" y1="284.50" x2="302.90" y2="284.50" stroke="#111" stroke-width="0.8"/>
<line x1="301.30" y1="280.95" x2="302.90" y2="280.95" stroke="#111" stroke-width="0.8"/>
<text x="296.50" y="351.20" font-size="8.2" text-anchor="end" textLength="12.60" lengthAdjust="spacingAndGlyphs">100</text>
<text x="296.50" y="337.00" font-size="8.2" text-anchor="end" textLength="12.60" lengthAdjust="spacingAndGlyphs">200</text>
<text x="296.50" y="322.80" font-size="8.2" text-anchor="end" textLength="12.60" lengthAdjust="spacingAndGlyphs">300</text>
<text x="296.50" y="308.60" font-size="8.2" text-anchor="end" textLength="12.60" lengthAdjust="spacingAndGlyphs">400</text>
<text x="296.50" y="294.40" font-size="8.2" text-anchor="end" textLength="12.60" lengthAdjust="spacingAndGlyphs">500</text>
<line x1="308.40" y1="363.30" x2="308.40" y2="365.70" stroke="#111" stroke-width="0.8"/>
<line x1="322.00" y1="363.30" x2="322.00" y2="365.70" stroke="#111" stroke-width="0.8"/>
<line x1="335.90" y1="363.30" x2="335.90" y2="365.70" stroke="#111" stroke-width="0.8"/>
<line x1="359.50" y1="363.30" x2="359.50" y2="365.70" stroke="#111" stroke-width="0.8"/>
<line x1="380.20" y1="363.30" x2="380.20" y2="365.70" stroke="#111" stroke-width="0.8"/>
<line x1="312.40" y1="363.30" x2="312.40" y2="364.70" stroke="#111" stroke-width="0.7"/>
<line x1="316.30" y1="363.30" x2="316.30" y2="364.70" stroke="#111" stroke-width="0.7"/>
<line x1="328.40" y1="363.30" x2="328.40" y2="364.70" stroke="#111" stroke-width="0.7"/>
<line x1="331.90" y1="363.30" x2="331.90" y2="364.70" stroke="#111" stroke-width="0.7"/>
<line x1="343.40" y1="363.30" x2="343.40" y2="364.70" stroke="#111" stroke-width="0.7"/>
<line x1="348.40" y1="363.30" x2="348.40" y2="364.70" stroke="#111" stroke-width="0.7"/>
<line x1="351.90" y1="363.30" x2="351.90" y2="364.70" stroke="#111" stroke-width="0.7"/>
<line x1="354.40" y1="363.30" x2="354.40" y2="364.70" stroke="#111" stroke-width="0.7"/>
<line x1="356.40" y1="363.30" x2="356.40" y2="364.70" stroke="#111" stroke-width="0.7"/>
<line x1="357.90" y1="363.30" x2="357.90" y2="364.70" stroke="#111" stroke-width="0.7"/>
<line x1="366.40" y1="363.30" x2="366.40" y2="364.70" stroke="#111" stroke-width="0.7"/>
<line x1="371.40" y1="363.30" x2="371.40" y2="364.70" stroke="#111" stroke-width="0.7"/>
<line x1="374.90" y1="363.30" x2="374.90" y2="364.70" stroke="#111" stroke-width="0.7"/>
<line x1="377.40" y1="363.30" x2="377.40" y2="364.70" stroke="#111" stroke-width="0.7"/>
<line x1="379.40" y1="363.30" x2="379.40" y2="364.70" stroke="#111" stroke-width="0.7"/>
<text x="299.40" y="376.40" font-size="7.9" textLength="10.50" lengthAdjust="spacingAndGlyphs">&#8722;10</text>
<text x="309.65" y="373.90" font-size="5.53">3</text>
<text x="321.70" y="376.40" font-size="7.9" text-anchor="middle" textLength="3.90" lengthAdjust="spacingAndGlyphs">0</text>
<text x="330.50" y="376.40" font-size="7.9" textLength="7.10" lengthAdjust="spacingAndGlyphs">10</text>
<text x="337.55" y="373.90" font-size="5.53">3</text>
<text x="354.30" y="376.40" font-size="7.9" textLength="7.10" lengthAdjust="spacingAndGlyphs">10</text>
<text x="361.35" y="373.90" font-size="5.53">4</text>
<text x="374.10" y="376.40" font-size="7.9" textLength="7.10" lengthAdjust="spacingAndGlyphs">10</text>
<text x="381.15" y="373.90" font-size="5.53">5</text>
<line x1="336.00" y1="347.70" x2="372.90" y2="347.70" stroke="#666" stroke-width="0.8"/>
<line x1="336.00" y1="346.50" x2="336.00" y2="348.90" stroke="#666" stroke-width="0.8"/>
<line x1="372.90" y1="346.50" x2="372.90" y2="348.90" stroke="#666" stroke-width="0.8"/>
<text x="354.45" y="342.90" font-size="7.8" text-anchor="middle" textLength="22.40" lengthAdjust="spacingAndGlyphs">23.6%</text>
<text x="471.05" y="271.60" font-size="8.9" text-anchor="middle" textLength="42.80" lengthAdjust="spacingAndGlyphs" class="t">sgBMI1#2</text>
<path d="M446.60 363.30 L446.60 363.30 L447.00 353.30 L447.50 340.00 L448.00 310.00 L449.30 286.30 L450.80 310.00 L451.30 333.30 L452.10 343.30 L452.90 350.30 L453.80 353.60 L456.00 356.60 L457.50 357.62 L459.00 358.20 L460.30 358.80 L461.60 358.64 L462.90 358.80 L464.07 358.45 L465.23 359.02 L466.40 358.80 L467.53 358.82 L468.67 358.76 L469.80 358.20 L471.35 357.98 L472.90 357.70 L474.20 358.64 L475.50 358.80 L477.00 359.27 L478.50 360.50 L479.80 361.30 L481.10 362.30 L482.80 363.30 L482.80 363.30 Z" fill="#9a9eb0" stroke="#5f6372" stroke-width="0.6" stroke-linejoin="round"/>
<rect x="446.10" y="362.70" width="2.60" height="1.80" fill="#111"/>
<rect x="428.30" y="278.50" width="85.50" height="84.80" fill="none" stroke="#161616" stroke-width="1.25"/>
<line x1="425.30" y1="362.30" x2="428.30" y2="362.30" stroke="#111" stroke-width="0.8"/>
<line x1="426.70" y1="356.28" x2="428.30" y2="356.28" stroke="#111" stroke-width="0.8"/>
<line x1="426.70" y1="350.25" x2="428.30" y2="350.25" stroke="#111" stroke-width="0.8"/>
<line x1="426.70" y1="344.23" x2="428.30" y2="344.23" stroke="#111" stroke-width="0.8"/>
<line x1="425.30" y1="338.20" x2="428.30" y2="338.20" stroke="#111" stroke-width="0.8"/>
<line x1="426.70" y1="332.18" x2="428.30" y2="332.18" stroke="#111" stroke-width="0.8"/>
<line x1="426.70" y1="326.15" x2="428.30" y2="326.15" stroke="#111" stroke-width="0.8"/>
<line x1="426.70" y1="320.12" x2="428.30" y2="320.12" stroke="#111" stroke-width="0.8"/>
<line x1="425.30" y1="314.10" x2="428.30" y2="314.10" stroke="#111" stroke-width="0.8"/>
<line x1="426.70" y1="308.07" x2="428.30" y2="308.07" stroke="#111" stroke-width="0.8"/>
<line x1="426.70" y1="302.05" x2="428.30" y2="302.05" stroke="#111" stroke-width="0.8"/>
<line x1="426.70" y1="296.02" x2="428.30" y2="296.02" stroke="#111" stroke-width="0.8"/>
<line x1="425.30" y1="290.00" x2="428.30" y2="290.00" stroke="#111" stroke-width="0.8"/>
<line x1="426.70" y1="283.98" x2="428.30" y2="283.98" stroke="#111" stroke-width="0.8"/>
<text x="421.90" y="365.10" font-size="8.2" text-anchor="end">0</text>
<text x="421.90" y="341.00" font-size="8.2" text-anchor="end" textLength="12.60" lengthAdjust="spacingAndGlyphs">200</text>
<text x="421.90" y="316.90" font-size="8.2" text-anchor="end" textLength="12.60" lengthAdjust="spacingAndGlyphs">400</text>
<text x="421.90" y="292.80" font-size="8.2" text-anchor="end" textLength="12.60" lengthAdjust="spacingAndGlyphs">600</text>
<line x1="433.80" y1="363.30" x2="433.80" y2="365.70" stroke="#111" stroke-width="0.8"/>
<line x1="447.40" y1="363.30" x2="447.40" y2="365.70" stroke="#111" stroke-width="0.8"/>
<line x1="461.30" y1="363.30" x2="461.30" y2="365.70" stroke="#111" stroke-width="0.8"/>
<line x1="484.90" y1="363.30" x2="484.90" y2="365.70" stroke="#111" stroke-width="0.8"/>
<line x1="505.60" y1="363.30" x2="505.60" y2="365.70" stroke="#111" stroke-width="0.8"/>
<line x1="437.80" y1="363.30" x2="437.80" y2="364.70" stroke="#111" stroke-width="0.7"/>
<line x1="441.70" y1="363.30" x2="441.70" y2="364.70" stroke="#111" stroke-width="0.7"/>
<line x1="453.80" y1="363.30" x2="453.80" y2="364.70" stroke="#111" stroke-width="0.7"/>
<line x1="457.30" y1="363.30" x2="457.30" y2="364.70" stroke="#111" stroke-width="0.7"/>
<line x1="468.80" y1="363.30" x2="468.80" y2="364.70" stroke="#111" stroke-width="0.7"/>
<line x1="473.80" y1="363.30" x2="473.80" y2="364.70" stroke="#111" stroke-width="0.7"/>
<line x1="477.30" y1="363.30" x2="477.30" y2="364.70" stroke="#111" stroke-width="0.7"/>
<line x1="479.80" y1="363.30" x2="479.80" y2="364.70" stroke="#111" stroke-width="0.7"/>
<line x1="481.80" y1="363.30" x2="481.80" y2="364.70" stroke="#111" stroke-width="0.7"/>
<line x1="483.30" y1="363.30" x2="483.30" y2="364.70" stroke="#111" stroke-width="0.7"/>
<line x1="491.80" y1="363.30" x2="491.80" y2="364.70" stroke="#111" stroke-width="0.7"/>
<line x1="496.80" y1="363.30" x2="496.80" y2="364.70" stroke="#111" stroke-width="0.7"/>
<line x1="500.30" y1="363.30" x2="500.30" y2="364.70" stroke="#111" stroke-width="0.7"/>
<line x1="502.80" y1="363.30" x2="502.80" y2="364.70" stroke="#111" stroke-width="0.7"/>
<line x1="504.80" y1="363.30" x2="504.80" y2="364.70" stroke="#111" stroke-width="0.7"/>
<text x="424.80" y="376.40" font-size="7.9" textLength="10.50" lengthAdjust="spacingAndGlyphs">&#8722;10</text>
<text x="435.05" y="373.90" font-size="5.53">3</text>
<text x="447.10" y="376.40" font-size="7.9" text-anchor="middle" textLength="3.90" lengthAdjust="spacingAndGlyphs">0</text>
<text x="455.90" y="376.40" font-size="7.9" textLength="7.10" lengthAdjust="spacingAndGlyphs">10</text>
<text x="462.95" y="373.90" font-size="5.53">3</text>
<text x="479.70" y="376.40" font-size="7.9" textLength="7.10" lengthAdjust="spacingAndGlyphs">10</text>
<text x="486.75" y="373.90" font-size="5.53">4</text>
<text x="499.50" y="376.40" font-size="7.9" textLength="7.10" lengthAdjust="spacingAndGlyphs">10</text>
<text x="506.55" y="373.90" font-size="5.53">5</text>
<line x1="461.30" y1="347.70" x2="497.90" y2="347.70" stroke="#666" stroke-width="0.8"/>
<line x1="461.30" y1="346.50" x2="461.30" y2="348.90" stroke="#666" stroke-width="0.8"/>
<line x1="497.90" y1="346.50" x2="497.90" y2="348.90" stroke="#666" stroke-width="0.8"/>
<text x="479.60" y="342.90" font-size="7.8" text-anchor="middle" textLength="22.40" lengthAdjust="spacingAndGlyphs">24.7%</text>
<rect x="0.50" y="0.50" width="519.00" height="399.00" fill="none" stroke="#595959" stroke-width="1"/>
</svg>
</body></html>
